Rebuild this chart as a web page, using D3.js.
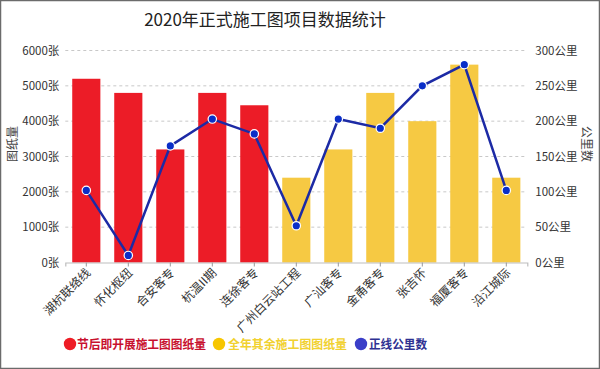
<!DOCTYPE html>
<html><head><meta charset="utf-8">
<script src="https://cdn.jsdelivr.net/npm/d3@7"></script>
<style>
html,body{margin:0;padding:0;background:#fff;}
svg{display:block;font-family:"Noto Sans CJK SC","Noto Sans",sans-serif;}
</style></head>
<body>
<svg id="c" width="600" height="369"></svg>
<script>
const categories = ["湖杭联络线","怀化枢纽","合安客专","杭温II期","连徐客专","广州白云站工程","广汕客专","金甬客专","张吉怀","福厦客专","沿江城际"];
const seriesNames = ["节后即开展施工图图纸量","全年其余施工图图纸量","正线公里数"];
const firstBatch = [5200,4800,3200,4800,4450,null,null,null,null,null,null];
const restBatch  = [null,null,null,null,null,2400,3200,4800,4000,5600,2400];
const kmValues   = [102,10,165,203,182,52,203,190,250,280,102];
const leftTicks  = [0,1000,2000,3000,4000,5000,6000];
const rightTicks = [0,50,100,150,200,250,300];
const titleText  = "2020年正式施工图项目数据统计";

const svg = d3.select("#c");
const W=600,H=369;
const x0=65.3,x1=527.3,yTop=50.5,yBot=262.5;
const colRed="#ec1c27", colYel="#f6c943", colBlue="#1c2aa5", colDot="#0a2ec8";

svg.append("rect").attr("x",0.5).attr("y",0.5).attr("width",W-1).attr("height",H-1)
  .attr("fill","#fff").attr("stroke","#6b6b6b").attr("stroke-width",1.5);

const x = d3.scaleBand().domain(categories).range([x0,x1]).paddingInner(0.33).paddingOuter(0.165);
const yL = d3.scaleLinear().domain([0,6000]).range([yBot,yTop]);
const yR = d3.scaleLinear().domain([0,300]).range([yBot,yTop]);

// title
svg.append("text").attr("x",265).attr("y",26).attr("text-anchor","middle")
  .attr("font-size",17).attr("fill","#222").text(titleText);

// gridlines
svg.append("g").selectAll("line").data(leftTicks.filter(d=>d>0)).join("line")
  .attr("x1",x0).attr("x2",x1).attr("y1",d=>yL(d)).attr("y2",d=>yL(d))
  .attr("stroke","#c8c8c8").attr("stroke-dasharray","3,3").attr("stroke-width",1);

// left axis
const gL = svg.append("g").attr("transform",`translate(${x0-6},0)`)
  .call(d3.axisLeft(yL).tickValues(leftTicks).tickFormat(d=>d+"张").tickSize(0).tickPadding(0));
gL.select(".domain").remove();
gL.selectAll("text").attr("font-size",11.5).attr("fill","#333").attr("font-family","'Noto Sans CJK SC',sans-serif");

// right axis
const gR = svg.append("g").attr("transform",`translate(${x1+8},0)`)
  .call(d3.axisRight(yR).tickValues(rightTicks).tickFormat(d=>d+"公里").tickSize(0).tickPadding(0));
gR.select(".domain").remove();
gR.selectAll("text").attr("font-size",11.5).attr("fill","#333").attr("font-family","'Noto Sans CJK SC',sans-serif");

// axis titles
svg.append("text").attr("transform","translate(17,144) rotate(-90)").attr("text-anchor","middle")
  .attr("font-size",12).attr("fill","#444").text("图纸量");
svg.append("text").attr("transform","translate(582,144) rotate(90)").attr("text-anchor","middle")
  .attr("font-size",12).attr("fill","#444").text("公里数");

// bars
svg.append("g").selectAll("rect").data(categories.map((c,i)=>({c,v:firstBatch[i]})).filter(d=>d.v!=null)).join("rect")
  .attr("x",d=>x(d.c)).attr("width",x.bandwidth()).attr("y",d=>yL(d.v)).attr("height",d=>yBot-yL(d.v))
  .attr("fill",colRed);
svg.append("g").selectAll("rect").data(categories.map((c,i)=>({c,v:restBatch[i]})).filter(d=>d.v!=null)).join("rect")
  .attr("x",d=>x(d.c)).attr("width",x.bandwidth()).attr("y",d=>yL(d.v)).attr("height",d=>yBot-yL(d.v))
  .attr("fill",colYel);

// x axis
const gX = svg.append("g").attr("transform",`translate(0,${yBot})`)
  .call(d3.axisBottom(x).tickSize(4).tickPadding(4));
gX.select(".domain").attr("stroke","#bdbdbd").attr("stroke-width",1.2);
gX.selectAll(".tick line").attr("stroke","#999");
gX.selectAll("text").attr("font-size",12).attr("fill","#333")
  .attr("font-family","'Noto Sans CJK SC',sans-serif")
  .attr("text-anchor","end").attr("dy","0.35em")
  .attr("transform","translate(2,8) rotate(-45)").attr("x",0).attr("y",0);

// line
const cx = c=>x(c)+x.bandwidth()/2;
const line = d3.line().x(d=>cx(d.c)).y(d=>yR(d.v));
const pts = categories.map((c,i)=>({c,v:kmValues[i]}));
svg.append("path").datum(pts).attr("d",line).attr("fill","none")
  .attr("stroke",colBlue).attr("stroke-width",2.5);
svg.append("g").selectAll("circle").data(pts).join("circle")
  .attr("cx",d=>cx(d.c)).attr("cy",d=>yR(d.v)).attr("r",4.2)
  .attr("fill",colDot).attr("stroke","#fff").attr("stroke-width",1.2);

// legend
const legend = [
  {name:seriesNames[0], dot:"#ee1c25", txt:"#c8102e", cx:70, tx:77, w:129},
  {name:seriesNames[1], dot:"#f7c600", txt:"#f1d130", cx:219, tx:228, w:119},
  {name:seriesNames[2], dot:"#3a3ec8", txt:"#2e3192", cx:361, tx:369, w:58}
];
const lg = svg.append("g");
legend.forEach(l=>{
  lg.append("circle").attr("cx",l.cx).attr("cy",344).attr("r",6.2).attr("fill",l.dot);
  lg.append("text").attr("x",l.tx).attr("y",348.5).attr("font-size",12.5).attr("font-weight","bold")
    .attr("fill",l.txt).attr("textLength",l.w).attr("lengthAdjust","spacingAndGlyphs").text(l.name);
});
</script>
</body></html>
